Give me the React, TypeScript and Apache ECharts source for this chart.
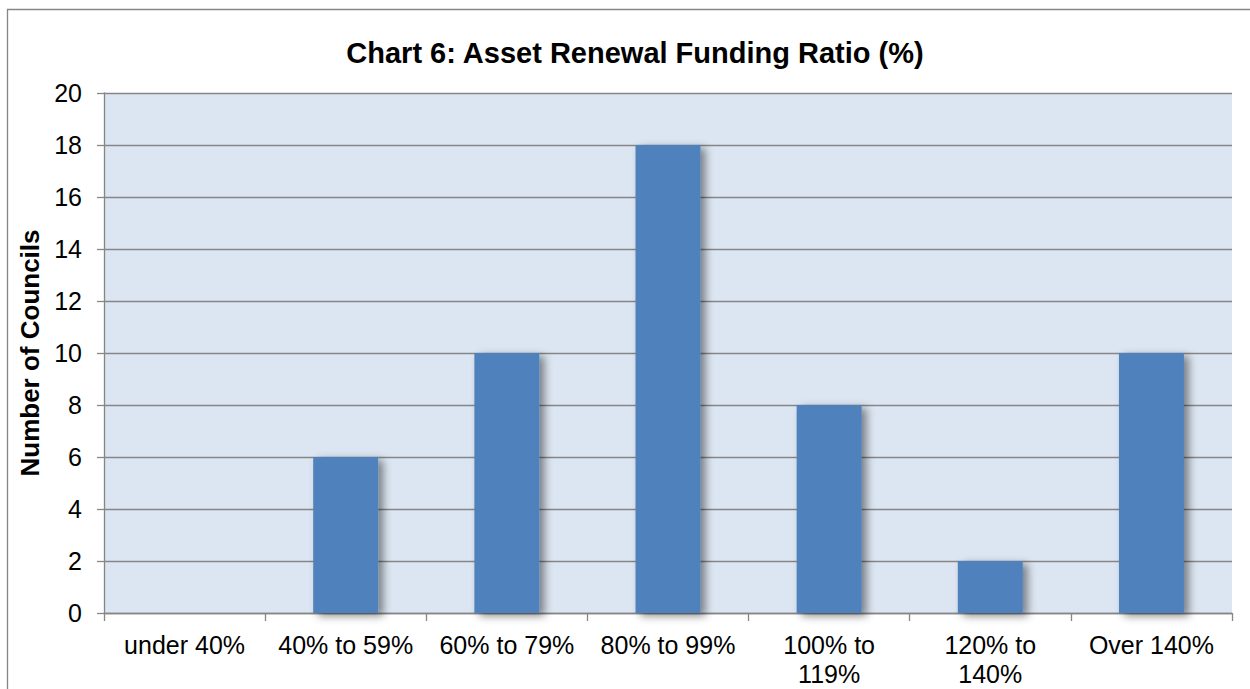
import React, { useEffect, useRef } from "react";
import * as echarts from "echarts";

const categories = ["under 40%", "40% to 59%", "60% to 79%", "80% to 99%", "100% to 119%", "120% to 140%", "Over 140%"];
const councils = [0, 6, 10, 18, 8, 2, 10];
const yMin = 0;
const yMax = 20;
const yInterval = 2;
const titleText = "Chart 6: Asset Renewal Funding Ratio (%)";
const yAxisTitle = "Number of Councils";

const FONT = "'Liberation Sans', Arial, Helvetica, sans-serif";
const GRID_COLOR = "#868686";

export default function App() {
  const ref = useRef<HTMLDivElement>(null);
  useEffect(() => {
    if (!ref.current) return;
    const chart = echarts.init(ref.current, undefined, { renderer: "svg" });
    chart.setOption({
      animation: false,
      backgroundColor: "#ffffff",
      title: {
        text: titleText,
        left: 630,
        top: 33,
        textAlign: "center",
        textStyle: { fontFamily: FONT, fontSize: 29, fontWeight: "bold", color: "#000" },
      },
      graphic: [
        {
          type: "rect",
          shape: { x: 7.5, y: 9.5, width: 1400, height: 800 },
          style: { fill: "none", stroke: GRID_COLOR, lineWidth: 1.3 },
          silent: true,
          z: 100,
        },
      ],
      grid: {
        left: 104,
        top: 93,
        right: 18,
        bottom: 76,
        containLabel: false,
        outerBoundsMode: "none",
        show: true,
        backgroundColor: "#DCE6F2",
        borderWidth: 0,
      },
      xAxis: {
        type: "category",
        data: categories,
        boundaryGap: true,
        axisLine: { show: true, lineStyle: { color: GRID_COLOR, width: 1.3 } },
        axisTick: { show: true, length: 8, alignWithLabel: false, lineStyle: { color: GRID_COLOR, width: 1.3 } },
        axisLabel: {
          margin: 17,
          fontFamily: FONT,
          fontSize: 25,
          color: "#000",
          lineHeight: 29,
          interval: 0,
          formatter: (v: string) => (v.length > 10 ? v.replace(" to ", " to\n") : v),
        },
      },
      yAxis: {
        type: "value",
        min: yMin,
        max: yMax,
        interval: yInterval,
        name: yAxisTitle,
        nameLocation: "middle",
        nameRotate: 90,
        nameGap: 55,
        nameTextStyle: { fontFamily: FONT, fontSize: 26, fontWeight: "bold", color: "#000" },
        axisLine: { show: true, lineStyle: { color: GRID_COLOR, width: 1.3 } },
        axisTick: { show: true, length: 7, lineStyle: { color: GRID_COLOR, width: 1.3 } },
        splitLine: { show: true, lineStyle: { color: GRID_COLOR, width: 1.3 } },
        axisLabel: { margin: 22, fontFamily: FONT, fontSize: 25, color: "#000" },
      },
      series: [
        {
          type: "bar",
          data: councils,
          barWidth: 65,
          itemStyle: {
            color: "#4F81BD",
            shadowColor: "rgba(0,0,0,0.45)",
            shadowBlur: 8,
            shadowOffsetX: 5,
            shadowOffsetY: 3,
          },
        },
      ],
    });
    return () => chart.dispose();
  }, []);
  return (
    <div
      ref={ref}
      style={{ position: "absolute", left: 0, top: 0, width: 1250, height: 689 }}
    />
  );
}
